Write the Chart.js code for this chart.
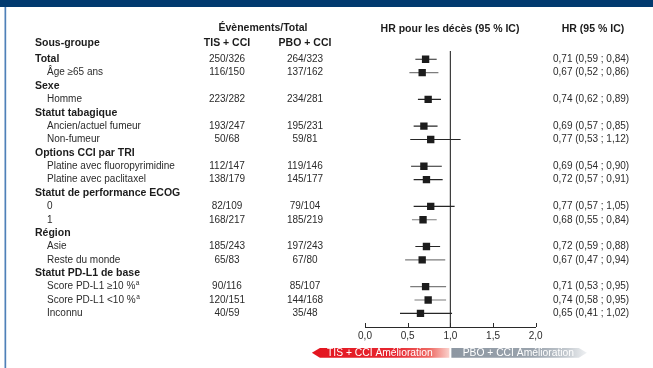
<!DOCTYPE html>
<html><head><meta charset="utf-8">
<script src="https://cdn.jsdelivr.net/npm/chart.js@4.4.1/dist/chart.umd.min.js"></script>
<style>html,body{margin:0;padding:0;background:#fff}#wrap{position:relative;width:653px;height:368px}</style>
</head><body><div id="wrap"><canvas id="c"></canvas></div>
<script>
// ---------- DATA ----------
const subgroups = ['Total','Âge ≥65 ans','Sexe','Homme','Statut tabagique','Ancien/actuel fumeur','Non-fumeur',
  'Options CCI par TRI','Platine avec fluoropyrimidine','Platine avec paclitaxel','Statut de performance ECOG','0','1',
  'Région','Asie','Reste du monde','Statut PD-L1 de base','Score PD-L1 ≥10 %ᵃ','Score PD-L1 <10 %ᵃ','Inconnu'];
const isGroupRow = [true,false,true,false,true,false,false,true,false,false,true,false,false,true,false,false,true,false,false,false];
const tisEvents = ['250/326','116/150',null,'223/282',null,'193/247','50/68',null,'112/147','138/179',null,'82/109','168/217',null,'185/243','65/83',null,'90/116','120/151','40/59'];
const pboEvents = ['264/323','137/162',null,'234/281',null,'195/231','59/81',null,'119/146','145/177',null,'79/104','185/219',null,'197/243','67/80',null,'85/107','144/168','35/48'];
const hr     = [0.71,0.67,null,0.74,null,0.69,0.77,null,0.69,0.72,null,0.77,0.68,null,0.72,0.67,null,0.71,0.74,0.65];
const ciLow  = [0.59,0.52,null,0.62,null,0.57,0.53,null,0.54,0.57,null,0.57,0.55,null,0.59,0.47,null,0.53,0.58,0.41];
const ciHigh = [0.84,0.86,null,0.89,null,0.85,1.12,null,0.90,0.91,null,1.05,0.84,null,0.88,0.94,null,0.95,0.95,1.02];
const xTickValues = [0, 0.5, 1, 1.5, 2];
const refValue = 1;
const headEvents = 'Évènements/Total', headSub = 'Sous-groupe', headTis = 'TIS + CCI', headPbo = 'PBO + CCI';
const headPlot = 'HR pour les décès (95 % IC)', headHr = 'HR (95 % IC)';
const arrowLeftText = 'TIS + CCI Amélioration', arrowRightText = 'PBO + CCI Amélioration';

// ---------- STYLE ----------
const FONT = '"Liberation Sans", Arial, Helvetica, sans-serif';
const DARK = '#1c1c1c', GRAY_CI = '#7d7d7d', CI_DARK = '#262626';
const grayCiRows = [1, 12, 15, 17, 18];
const fmt2 = v => v.toFixed(2).replace('.', ',');
const fmt1 = v => Number(v).toFixed(1).replace('.', ',');

// build datasets from arrays
const pointData = [], ciData = [], ciRowOf = [];
hr.forEach((v, i) => {
  if (v == null) return;
  pointData.push({x: v, y: i});
  ciData.push({x: ciLow[i], y: i}); ciRowOf.push(i);
  ciData.push({x: ciHigh[i], y: i}); ciRowOf.push(i);
  ciData.push({x: null, y: null}); ciRowOf.push(i);
});

function drawLabel(ctx, txt, x, y) {
  if (txt.endsWith('ᵃ')) {
    const base = txt.slice(0, -1);
    ctx.fillText(base, x, y);
    const w = ctx.measureText(base).width;
    const f = ctx.font;
    ctx.font = '6.5px ' + FONT;
    ctx.fillText('a', x + w + 0.5, y - 3);
    ctx.font = f;
  } else ctx.fillText(txt, x, y);
}

const decor = {
  id: 'decor',
  beforeDraw(chart) {
    const ctx = chart.ctx;
    ctx.save();
    ctx.fillStyle = '#fff'; ctx.fillRect(0, 0, chart.width, chart.height);
    ctx.fillStyle = '#023a6f'; ctx.fillRect(0, 0, chart.width, 7);
    ctx.fillStyle = '#4f80b8'; ctx.fillRect(4.5, 7, 1.7, chart.height - 7);
    ctx.restore();
  },
  beforeDatasetsDraw(chart) {
    const {ctx, chartArea, scales: {x}} = chart;
    ctx.save();
    const px = x.getPixelForValue(refValue);
    ctx.strokeStyle = '#2a2a2a'; ctx.lineWidth = 1.1;
    ctx.beginPath(); ctx.moveTo(px, chartArea.top); ctx.lineTo(px, chartArea.bottom); ctx.stroke();
    ctx.lineWidth = 1;
    xTickValues.forEach(v => {
      const tx = Math.round(x.getPixelForValue(v)) + 0.5;
      ctx.beginPath(); ctx.moveTo(tx, chartArea.bottom); ctx.lineTo(tx, chartArea.bottom - 4); ctx.stroke();
    });
    ctx.restore();
  },
  afterDraw(chart) {
    const {ctx, scales: {x, y}} = chart;
    ctx.save();
    ctx.textBaseline = 'middle';
    ctx.fillStyle = DARK;
    // headers
    ctx.font = 'bold 10.5px ' + FONT;
    ctx.textAlign = 'center';
    ctx.fillText(headEvents, 263, 28.5);
    ctx.fillText(headPlot, 450, 29);
    ctx.fillText(headHr, 593, 29);
    ctx.fillText(headTis, 227, 43.5);
    ctx.fillText(headPbo, 305, 43.5);
    ctx.textAlign = 'left';
    ctx.fillText(headSub, 35, 43.5);
    // rows
    subgroups.forEach((s, i) => {
      const py = y.getPixelForValue(i);
      ctx.textAlign = 'left';
      if (isGroupRow[i]) { ctx.font = 'bold 10.5px ' + FONT; ctx.fillStyle = DARK; drawLabel(ctx, s, 35, py); }
      else { ctx.font = '10px ' + FONT; ctx.fillStyle = '#2b2b2b'; drawLabel(ctx, s, 47, py); }
      ctx.font = '10px ' + FONT; ctx.fillStyle = '#2b2b2b';
      ctx.textAlign = 'center';
      if (tisEvents[i]) ctx.fillText(tisEvents[i], 227, py);
      if (pboEvents[i]) ctx.fillText(pboEvents[i], 305, py);
      if (hr[i] != null) {
        ctx.textAlign = 'left';
        ctx.fillText(fmt2(hr[i]) + ' (' + fmt2(ciLow[i]) + ' ; ' + fmt2(ciHigh[i]) + ')', 553, py);
      }
    });
    // arrows
    const mid = x.getPixelForValue(refValue);
    const yT = 348, yB = 357.7, yM = (yT + yB) / 2;
    const lx = mid - 138.5, rx = mid + 136.5;
    let g = ctx.createLinearGradient(lx, 0, mid, 0);
    g.addColorStop(0, '#e3141e'); g.addColorStop(0.6, '#e62630'); g.addColorStop(0.85, '#ee6a64'); g.addColorStop(1, '#fbd6d1');
    ctx.fillStyle = g;
    ctx.beginPath(); ctx.moveTo(mid - 1, yT); ctx.lineTo(lx + 8, yT); ctx.lineTo(lx, yM); ctx.lineTo(lx + 8, yB); ctx.lineTo(mid - 1, yB); ctx.closePath(); ctx.fill();
    g = ctx.createLinearGradient(mid, 0, rx, 0);
    g.addColorStop(0, '#8d97a2'); g.addColorStop(0.6, '#9aa3ad'); g.addColorStop(0.85, '#c3c9cf'); g.addColorStop(1, '#eff1f3');
    ctx.fillStyle = g;
    ctx.beginPath(); ctx.moveTo(mid + 1, yT); ctx.lineTo(rx - 8, yT); ctx.lineTo(rx, yM); ctx.lineTo(rx - 8, yB); ctx.lineTo(mid + 1, yB); ctx.closePath(); ctx.fill();
    ctx.fillStyle = '#fff'; ctx.font = '10.3px ' + FONT; ctx.textAlign = 'center';
    ctx.fillText(arrowLeftText, mid - 70.5, yM + 0.3);
    ctx.fillText(arrowRightText, mid + 68, yM + 0.3);
    ctx.restore();
  }
};

new Chart(document.getElementById('c'), {
  type: 'scatter',
  data: {
    datasets: [
      { data: pointData, pointStyle: 'rect', pointRadius: 5.2, pointBackgroundColor: DARK, pointBorderWidth: 0, showLine: false, order: 0 },
      { data: ciData, showLine: true, spanGaps: false, pointRadius: 0, borderWidth: 1.1, borderColor: CI_DARK, order: 1,
        segment: { borderColor: c => grayCiRows.includes(ciRowOf[c.p0DataIndex]) ? GRAY_CI : CI_DARK } }
    ]
  },
  options: {
    responsive: true, maintainAspectRatio: false, animation: false, events: [],
    layout: { padding: { left: 365, right: 117.3, top: 51, bottom: 0 } },
    plugins: { legend: { display: false }, tooltip: { enabled: false } },
    scales: {
      x: { type: 'linear', min: 0, max: 2,
        afterBuildTicks: s => { s.ticks = xTickValues.map(v => ({value: v})); },
        ticks: { callback: v => fmt1(v), font: { family: FONT, size: 10 }, color: '#2b2b2b', padding: 3, maxRotation: 0, autoSkip: false },
        grid: { display: false, drawTicks: false }, border: { display: true, color: '#2a2a2a', width: 1 },
        afterFit: s => { s.height = 41; } },
      y: { type: 'linear', reverse: true, min: -0.62, max: 20.02, display: false }
    }
  },
  plugins: [decor]
});
</script></body></html>
